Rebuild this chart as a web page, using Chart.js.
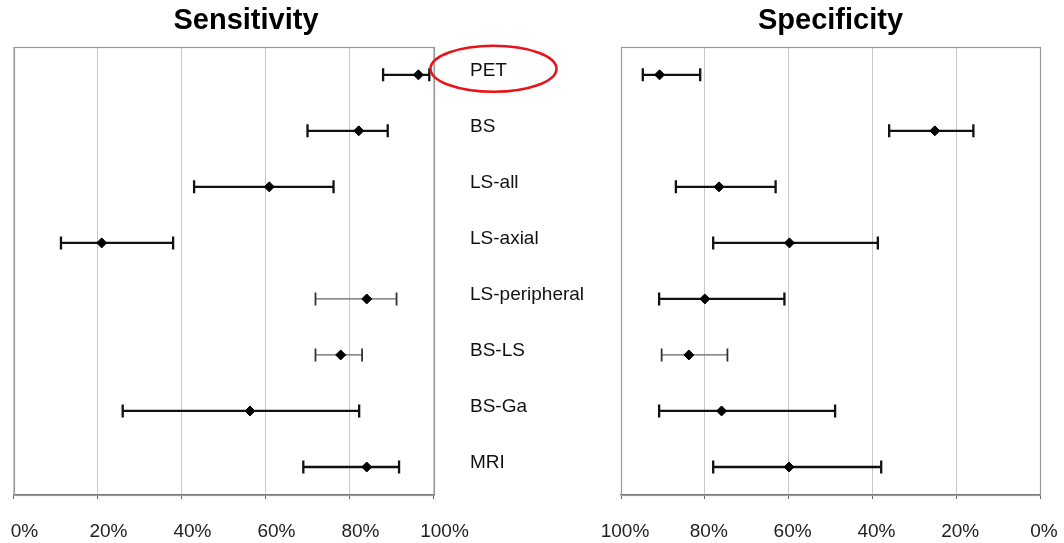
<!DOCTYPE html>
<html>
<head>
<meta charset="utf-8">
<title>Sensitivity and Specificity</title>
<script src="https://cdn.jsdelivr.net/npm/chart.js@4"></script>
<style>
  body { margin: 0; background: #fff; }
  .box { position: absolute; top: 0; height: 543px; }
  #leftBox { left: 0; width: 560px; }
  #rightBox { left: 460px; width: 604px; }
</style>
</head>
<body>
<div class="box" id="leftBox"><canvas id="sens"></canvas></div>
<div class="box" id="rightBox"><canvas id="spec"></canvas></div>
<script>
const categories = ['PET', 'BS', 'LS-all', 'LS-axial', 'LS-peripheral', 'BS-LS', 'BS-Ga', 'MRI'];

const sensPoint = [96.4, 82.2, 60.9, 21.0, 84.1, 77.9, 56.3, 84.1];
const sensLow   = [88.0, 70.0, 43.0, 11.3, 71.9, 71.9, 26.0, 69.0];
const sensHigh  = [99.0, 89.1, 76.2, 38.0, 91.2, 83.0, 82.3, 91.8];

const specPoint = [90.8, 25.1, 76.6, 59.8, 80.0, 83.8, 76.0, 59.9];
const specLow   = [81.1, 15.9, 63.1, 38.7, 61.0, 74.6, 48.9, 37.9];
const specHigh  = [94.8, 36.0, 86.9, 78.0, 90.9, 90.3, 90.9, 78.0];

const xTicks = [0, 20, 40, 60, 80, 100];
const highlighted = 'PET';

Chart.defaults.font.family = '"Liberation Sans", Arial, sans-serif';
Chart.defaults.color = '#222';

// grey box round the plot area
const framePlugin = {
    id: 'frame',
    beforeDatasetsDraw(chart) {
        const a = chart.chartArea;
        const ctx = chart.ctx;
        ctx.save();
        ctx.strokeStyle = '#9a9a9a';
        ctx.lineWidth = 1.2;
        ctx.strokeRect(Math.round(a.left) + 0.5, Math.round(a.top) + 0.5,
            Math.round(a.right - a.left), Math.round(a.bottom - a.top));
        ctx.restore();
    }
};

// red ring round the highlighted label
const ringPlugin = {
    id: 'ring',
    afterDraw(chart) {
        const y = chart.scales.y.getPixelForValue(highlighted) - 6;
        const x = chart.chartArea.right + 60;
        const ctx = chart.ctx;
        ctx.save();
        ctx.strokeStyle = '#e8141c';
        ctx.lineWidth = 2.6;
        ctx.beginPath();
        ctx.ellipse(x, y, 63, 23, 0, 0, Math.PI * 2);
        ctx.stroke();
        ctx.restore();
    }
};

function whiskers(low, high, thin) {
    return categories.map((c, i) => {
        const light = thin.includes(c);
        return {
            data: [{x: low[i], y: c}, {x: high[i], y: c}],
            showLine: true,
            borderColor: light ? '#666' : '#111',
            borderWidth: light ? 1.3 : 2.3,
            pointStyle: 'line',
            pointRotation: 90,
            pointRadius: 6.5,
            pointHoverRadius: 6.5,
            pointBorderColor: light ? '#333' : '#111',
            pointBorderWidth: light ? 1.8 : 2.3,
            order: 1
        };
    });
}

function makeChart(id, title, point, low, high, thin, opts) {
    const datasets = [{
        data: categories.map((c, i) => ({x: point[i], y: c})),
        pointStyle: 'rectRot',
        pointRadius: 5,
        pointHoverRadius: 5,
        backgroundColor: '#000',
        borderColor: '#000',
        borderWidth: 1,
        order: 0
    }].concat(whiskers(low, high, thin));

    return new Chart(document.getElementById(id), {
        type: 'scatter',
        data: {datasets: datasets},
        options: {
            responsive: true,
            maintainAspectRatio: false,
            animation: false,
            layout: {padding: opts.padding},
            plugins: {
                legend: {display: false},
                tooltip: {enabled: false},
                title: {
                    display: true,
                    text: title,
                    fullSize: opts.titleFull,
                    font: {size: 29, weight: 'bold'},
                    color: '#000',
                    padding: {top: 4, bottom: 8}
                }
            },
            scales: {
                x: {
                    type: 'linear',
                    min: 0,
                    max: 100,
                    reverse: opts.reverse,
                    afterBuildTicks(scale) {
                        scale.ticks = xTicks.map(v => ({value: v}));
                    },
                    afterFit(scale) {
                        scale.paddingLeft = 0;
                        scale.paddingRight = 0;
                        scale.height = 48;
                    },
                    grid: {color: '#c8c8c8', lineWidth: 1, tickColor: '#666', tickLength: 4},
                    border: {display: true, color: '#777', width: 1.3},
                    ticks: {
                        font: {size: 19},
                        padding: 21,
                        maxRotation: 0,
                        autoSkip: false,
                        labelOffset: opts.labelOffset,
                        callback: v => v + '%'
                    }
                },
                y: {
                    type: 'category',
                    labels: categories,
                    offset: true,
                    position: opts.yPos,
                    afterFit(scale) {
                        scale.width = opts.yWidth;
                    },
                    grid: {display: false, drawTicks: false},
                    border: {display: false},
                    ticks: {
                        display: opts.showLabels,
                        font: {size: 19},
                        padding: 0,
                        crossAlign: 'far',
                        labelOffset: -4,
                        color: '#111'
                    }
                }
            }
        },
        plugins: opts.ring ? [framePlugin, ringPlugin] : [framePlugin]
    });
}

makeChart('sens', 'Sensitivity', sensPoint, sensLow, sensHigh, ['LS-peripheral', 'BS-LS'], {
    padding: {left: 13.5, right: 81.5, top: 0, bottom: 0},
    titleFull: true,
    reverse: false,
    labelOffset: 11,
    yPos: 'right',
    yWidth: 45,
    showLabels: false,
    ring: true
});

// the row names in the middle belong to this chart's left axis
makeChart('spec', 'Specificity', specPoint, specLow, specHigh, ['BS-LS'], {
    padding: {left: 10, right: 24, top: 0, bottom: 0},
    titleFull: false,
    reverse: true,
    labelOffset: 4,
    yPos: 'left',
    yWidth: 151,
    showLabels: true,
    ring: false
});
</script>
</body>
</html>
